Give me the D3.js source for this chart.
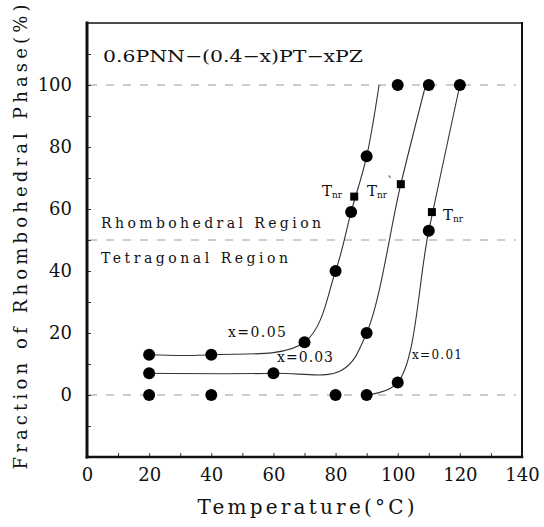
<!DOCTYPE html>
<html>
<head>
<meta charset="utf-8">
<script src="https://cdn.jsdelivr.net/npm/d3@7"></script>
<style>
  body { margin: 0; background: #fff; }
  svg { display: block; }
  text { font-family: "DejaVu Serif", "Liberation Serif", serif; fill: #111; }
</style>
</head>
<body>
<svg id="chart" width="544" height="527"></svg>
<script>
// measured points, per composition
var x005Temp = [20, 40, 70, 80, 85, 90, 100];
var x005Frac = [13, 13, 17, 40, 59, 77, 100];
var x003Temp = [20, 60, 90, 110];
var x003Frac = [7, 7, 20, 100];
var x001Temp = [20, 40, 80, 90, 100, 110, 120];
var x001Frac = [0, 0, 0, 0, 4, 53, 100];

// T_nr squares
var tnrTemp = [86, 101, 111];
var tnrFrac = [64, 68, 59];
var tnrLabels = ["T", "T", "T"];

// hand-drawn guide curves
var fit005 = [[20, 13], [40, 13], [70, 17], [80, 40], [85, 59], [90, 77], [94, 100]];
var fit003 = [[20, 7], [60, 7], [82, 8], [90, 20], [101, 68], [109, 100]];
var fit001 = [[90, 0], [100, 4], [110, 53], [120, 100]];

// horizontal dashed reference levels
var refLevels = [100, 50, 0];

var xTicks = [0, 10, 20, 30, 40, 50, 60, 70, 80, 90, 100, 110, 120, 130, 140];
var yTicks = [-10, 0, 10, 20, 30, 40, 50, 60, 70, 80, 90, 100, 110];

(function () {
    'use strict';

    var margin = { top: 23, right: 22, bottom: 70, left: 87 },
        W = 544, H = 527;

    var svg = d3.select('#chart');

    var x = d3.scaleLinear().domain([0, 140]).range([margin.left, W - margin.right]);
    var y = d3.scaleLinear().domain([-20, 120]).range([H - margin.bottom, margin.top]);

    // dashed reference lines
    svg.selectAll('.ref').data(refLevels).enter().append('line')
        .attr('x1', x(0) + 2).attr('x2', x(138))
        .attr('y1', function (d) { return y(d); })
        .attr('y2', function (d) { return y(d); })
        .attr('stroke', '#999').attr('stroke-width', 1)
        .attr('stroke-dasharray', '8,9');

    // axes, ticks inside
    var xAxis = d3.axisBottom(x).tickValues(xTicks).tickSizeInner(-4).tickSizeOuter(0).tickPadding(11)
        .tickFormat(function (d) { return d % 20 === 0 ? d : ''; });
    var yAxis = d3.axisLeft(y).tickValues(yTicks).tickSizeInner(-4).tickSizeOuter(0).tickPadding(15)
        .tickFormat(function (d) { return (d % 20 === 0 && d >= 0 && d <= 100) ? d : ''; });

    var gx = svg.append('g').attr('transform', 'translate(0,' + y(-20) + ')').call(xAxis);
    var gy = svg.append('g').attr('transform', 'translate(' + x(0) + ',0)').call(yAxis);
    [gx, gy].forEach(function (g) {
        g.select('.domain').remove();
        g.selectAll('line').attr('stroke', '#333');
        g.selectAll('text').attr('font-size', 18).attr('fill', '#111')
            .attr('font-family', '"DejaVu Serif", serif');
    });

    // frame
    var frame = [
        { x1: x(0), y1: y(120), x2: x(140), y2: y(120), w: 1.6 },
        { x1: x(140), y1: y(120), x2: x(140), y2: y(-20), w: 2 },
        { x1: x(0), y1: y(-20), x2: x(140), y2: y(-20), w: 2.6 },
        { x1: x(0), y1: y(120), x2: x(0), y2: y(-20), w: 3 }
    ];
    svg.selectAll('.frame').data(frame).enter().append('line')
        .attr('x1', function (d) { return d.x1; }).attr('y1', function (d) { return d.y1; })
        .attr('x2', function (d) { return d.x2; }).attr('y2', function (d) { return d.y2; })
        .attr('stroke', '#111').attr('stroke-width', function (d) { return d.w; })
        .attr('stroke-linecap', 'square');

    // guide curves
    var line = d3.line()
        .x(function (d) { return x(d[0]); })
        .y(function (d) { return y(d[1]); })
        .curve(d3.curveCatmullRom.alpha(0.5));

    [fit005, fit003, fit001].forEach(function (pts) {
        svg.append('path').attr('d', line(pts))
            .attr('fill', 'none').attr('stroke', '#333').attr('stroke-width', 1.1);
    });

    // data points
    var series = [
        { t: x005Temp, f: x005Frac },
        { t: x003Temp, f: x003Frac },
        { t: x001Temp, f: x001Frac }
    ];
    series.forEach(function (s) {
        svg.append('g').selectAll('circle').data(s.t).enter().append('circle')
            .attr('cx', function (d) { return x(d); })
            .attr('cy', function (d, i) { return y(s.f[i]); })
            .attr('r', 6).attr('fill', '#000');
    });

    svg.append('g').selectAll('rect').data(tnrTemp).enter().append('rect')
        .attr('x', function (d) { return x(d) - 4; })
        .attr('y', function (d, i) { return y(tnrFrac[i]) - 4; })
        .attr('width', 8).attr('height', 8).attr('fill', '#000');

    // T_nr labels
    var tnrPos = [
        { x: 322, y: 196 },
        { x: 367, y: 196 },
        { x: 443, y: 220 }
    ];
    tnrPos.forEach(function (p, i) {
        var t = svg.append('text').attr('x', p.x).attr('y', p.y).attr('font-size', 15);
        t.append('tspan').text(tnrLabels[i]);
        t.append('tspan').attr('font-size', 9).attr('dy', 2).text('nr');
        if (i === 1) t.append('tspan').attr('dy', -12).attr('font-size', 12).text('`');
    });

    // texts
    svg.append('text').attr('x', 103).attr('y', 62).attr('font-size', 17)
        .attr('textLength', 260).attr('lengthAdjust', 'spacingAndGlyphs')
        .text('0.6PNN\u2212(0.4\u2212x)PT\u2212xPZ');

    svg.append('text').attr('x', 101).attr('y', 228).attr('font-size', 14)
        .attr('textLength', 220).attr('lengthAdjust', 'spacing')
        .text('Rhombohedral Region');
    svg.append('text').attr('x', 101).attr('y', 263).attr('font-size', 14)
        .attr('textLength', 187).attr('lengthAdjust', 'spacing')
        .text('Tetragonal Region');

    svg.append('text').attr('x', 228).attr('y', 337).attr('font-size', 14)
        .attr('textLength', 58).text('x=0.05');
    svg.append('text').attr('x', 277).attr('y', 362).attr('font-size', 14)
        .attr('textLength', 56).text('x=0.03');
    svg.append('text').attr('x', 412).attr('y', 359).attr('font-size', 12)
        .attr('textLength', 50).text('x=0.01');

    // axis titles
    svg.append('text').attr('x', 306).attr('y', 514).attr('text-anchor', 'middle')
        .attr('font-size', 20).attr('textLength', 217).attr('lengthAdjust', 'spacing')
        .text('Temperature(\u00B0C)');

    svg.append('text').attr('transform', 'translate(27,237) rotate(-90)')
        .attr('text-anchor', 'middle').attr('font-size', 18)
        .attr('textLength', 465).attr('lengthAdjust', 'spacing')
        .text('Fraction of Rhombohedral Phase(%)');
})();
</script>
</body>
</html>
